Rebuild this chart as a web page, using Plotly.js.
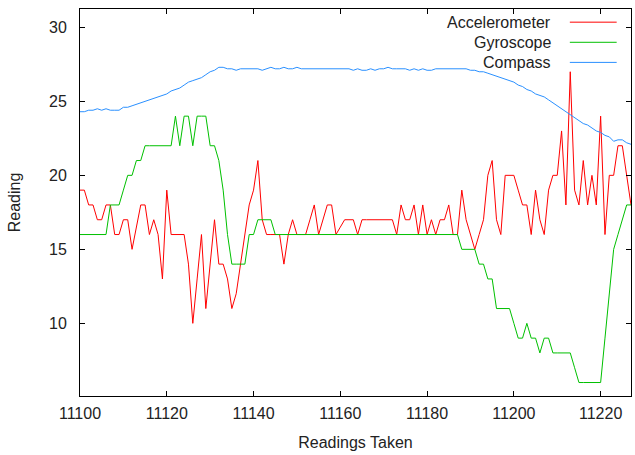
<!DOCTYPE html>
<html>
<head>
<meta charset="utf-8">
<script src="https://cdn.plot.ly/plotly-3.0.1.min.js"></script>
<style>html,body{margin:0;padding:0;background:#fff;}#chart{width:635px;height:455px;}</style>
</head>
<body>
<div id="chart"></div>
<script>
// Readings start at 11100, one per step
var xStart = 11100;
var seriesNames = ["Accelerometer", "Gyroscope", "Compass"];
var seriesColors = ["#ff0000", "#00c000", "#2a90ff"];

var accelerometer = [
  19,19,18,18,17,17,18,18,16,16,
  17,17,15,16.5,18,18,16,17,16,13,
  19,16,16,16,16,14,10,13,16,11,
  14,17,14,14,13,11,12,14,16,18,
  19,21,17,16,16,16,16,14,16,17,
  16,16,16,17,18,16,17,18,18,16,
  16.5,17,17,17,16,17,17,17,17,17,
  17,17,17,16,18,17,17,18,16,18,
  16,17,16,17,17,18,16,16,19,17,
  16,15,16,17,20,21,17,16,20,20,
  20,19,18,18,16,19,17,16,19,20,
  20,23,18,27,19,18,21,18,20,18,
  24,16,20,20,22,22,20,18
];

var gyroscope = [
  16,16,16,16,16,16,16,18,18,18,
  19,20,20,21,21,22,22,22,22,22,
  22,22,24,22,24,24,22,24,24,24,
  22,22,21,19,16,14,14,14,14,16,
  16,17,17,17,17,16,16,16,16,16,
  16,16,16,16,16,16,16,16,16,16,
  16,16,16,16,16,16,16,16,16,16,
  16,16,16,16,16,16,16,16,16,16,
  16,16,16,16,16,16,16,16,15,15,
  15,15,14,14,13,13,11,11,11,11,
  10,9,9,10,9,9,8,9,9,8,
  8,8,8,8,7,6,6,6,6,6,
  6,9,12,15,16,17,18,18
];

var compass = [
  24.3,24.3,24.4,24.4,24.5,24.4,24.5,24.4,24.4,24.4,
  24.6,24.6,24.7,24.8,24.9,25.0,25.1,25.2,25.3,25.4,
  25.5,25.7,25.8,25.9,26.1,26.3,26.4,26.5,26.6,26.8,
  27.0,27.1,27.3,27.3,27.2,27.2,27.1,27.2,27.2,27.2,
  27.2,27.2,27.1,27.2,27.3,27.2,27.2,27.3,27.2,27.2,
  27.3,27.2,27.2,27.2,27.2,27.2,27.2,27.2,27.2,27.2,
  27.2,27.2,27.2,27.1,27.2,27.1,27.1,27.2,27.1,27.2,
  27.2,27.3,27.2,27.2,27.2,27.2,27.1,27.2,27.1,27.2,
  27.1,27.1,27.2,27.2,27.2,27.2,27.2,27.2,27.2,27.2,
  27.1,27.1,27.0,27.0,26.9,26.8,26.7,26.6,26.5,26.4,
  26.3,26.1,26.0,25.8,25.7,25.5,25.4,25.3,25.1,24.9,
  24.7,24.5,24.3,24.1,23.9,23.7,23.5,23.4,23.2,23.0,
  22.9,22.7,22.6,22.3,22.4,22.4,22.2,22.1
];

var xTickVals = [11100, 11120, 11140, 11160, 11180, 11200, 11220];
var yTickVals = [10, 15, 20, 25, 30];

var allSeries = [accelerometer, gyroscope, compass];
var traces = allSeries.map(function (vals, k) {
  return {
    type: "scatter",
    mode: "lines",
    name: seriesNames[k],
    x0: xStart,
    dx: 1,
    y: vals,
    line: { color: seriesColors[k], width: 1 },
    showlegend: false
  };
});

var FONT = "Liberation Sans, Arial, Helvetica, sans-serif";

// Gnuplot-style key: label at left, line sample at right
var legendRowsY = [0.966, 0.914, 0.862];
var annotations = [];
var shapes = [];
seriesNames.forEach(function (nm, k) {
  annotations.push({
    xref: "paper", yref: "paper",
    x: 0.858, y: legendRowsY[k],
    xanchor: "right", yanchor: "middle",
    text: nm, showarrow: false,
    font: { family: FONT, size: 16, color: "#222" }
  });
  shapes.push({
    type: "line", xref: "paper", yref: "paper",
    x0: 0.889, x1: 0.974, y0: legendRowsY[k], y1: legendRowsY[k],
    line: { color: seriesColors[k], width: 1 }
  });
});

var layout = {
  width: 635, height: 455,
  margin: { l: 80, r: 4, t: 9, b: 59 },
  paper_bgcolor: "#ffffff",
  plot_bgcolor: "#ffffff",
  font: { family: FONT, size: 16, color: "#222" },
  xaxis: {
    range: [11100, 11227],
    tickvals: xTickVals,
    ticktext: xTickVals.map(String),
    ticks: "inside", ticklen: 5, tickcolor: "#000", tickwidth: 1,
    showline: true, linecolor: "#000", linewidth: 1, mirror: "ticks",
    showgrid: false, zeroline: false,
    ticklabelstandoff: 3,
    title: { text: "Readings Taken", standoff: 15, font: { family: FONT, size: 16, color: "#222" } },
    automargin: false
  },
  yaxis: {
    range: [5.09, 31.24],
    tickvals: yTickVals,
    ticktext: yTickVals.map(String),
    ticks: "inside", ticklen: 5, tickcolor: "#000", tickwidth: 1,
    showline: true, linecolor: "#000", linewidth: 1, mirror: "ticks",
    showgrid: false, zeroline: false,
    ticklabelstandoff: 9,
    title: { text: "Reading", standoff: 24, font: { family: FONT, size: 16, color: "#222" } },
    automargin: false
  },
  annotations: annotations,
  shapes: shapes
};

Plotly.newPlot("chart", traces, layout, { staticPlot: true, displayModeBar: false });
</script>
</body>
</html>
